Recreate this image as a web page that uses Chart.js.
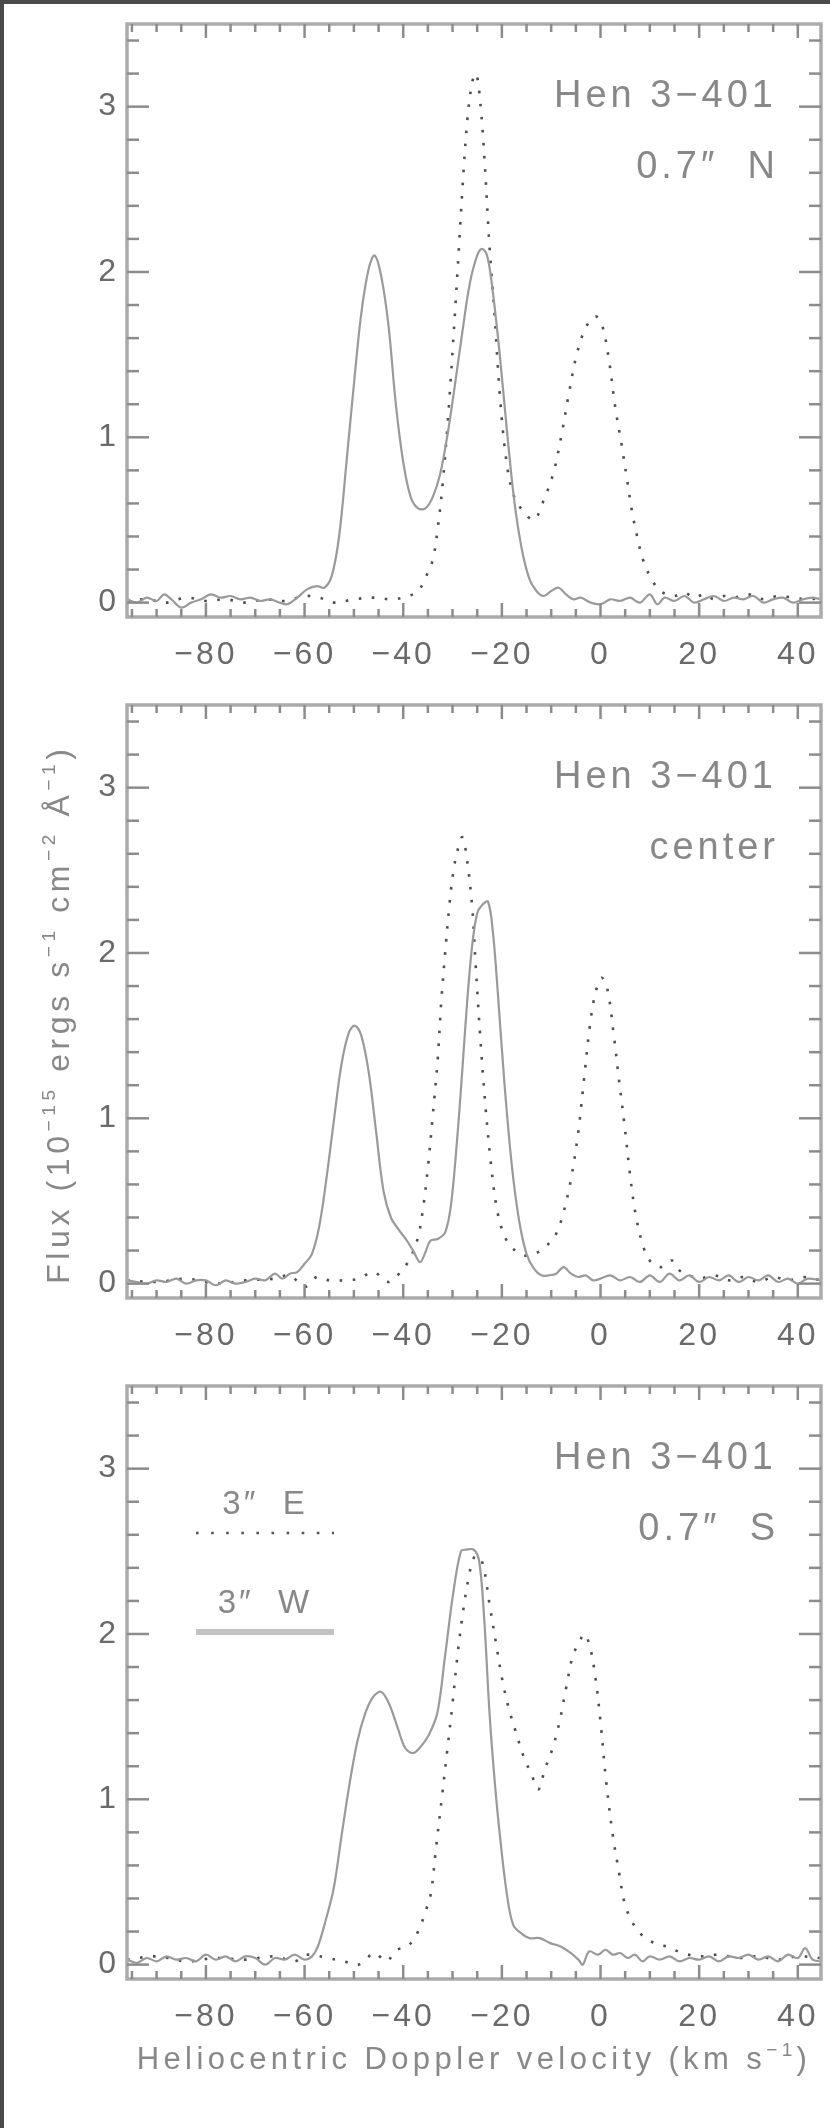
<!DOCTYPE html>
<html>
<head>
<meta charset="utf-8">
<script src="https://cdn.jsdelivr.net/npm/chart.js@4.4.0/dist/chart.umd.min.js"></script>
<style>
  html, body { margin: 0; padding: 0; background: #fff; }
  #page { position: relative; width: 830px; height: 2128px; overflow: hidden; background: #fff; }
  #page canvas { position: absolute; left: 0; }
  .edge { position: absolute; background: #4a4a4a; z-index: 5; }
</style>
</head>
<body>
<div id="page">
  <canvas id="panelN" width="830" height="681" style="top:0px"></canvas>
  <canvas id="panelC" width="830" height="681" style="top:681px"></canvas>
  <canvas id="panelS" width="830" height="766" style="top:1362px"></canvas>
  <div class="edge" style="left:0;top:0;width:830px;height:4px"></div>
  <div class="edge" style="left:0;top:0;width:4px;height:2128px"></div>
</div>
<script>
// axis ranges and ticks
const xMin = -96, xMax = 44.7;
const yMin = -0.087, yMax = 3.5;
const xMajorTicks = [-80, -60, -40, -20, 0, 20, 40];
const xMinorStep = 5;
const yMajorTicks = [0, 1, 2, 3];
const yMinorStep = 0.2;

// 0.7" N  -- solid = 3" W, dotted = 3" E
const northVelSolid = [-96,-94,-92,-90,-88.5,-87,-85,-83,-81,-79,-77,-75,-73,-71,-69,-67,-65,-63.5,-61.5,-59.5,-57.5,-56,-54.5,-53,-51.5,-50,-48.5,-47,-45.8,-44.5,-43,-41.5,-40,-38.5,-37,-35.5,-34,-32.5,-31,-29.5,-28,-26.5,-25,-24,-23,-22,-20.5,-19,-17.5,-16,-14.5,-13,-11.5,-10,-8.5,-7,-5.5,-4,-2,0,2,4,6,8,10,11.5,13,15,17,19,21,23,25,27,29,31,33,35,37,39,41,43,44.7];
const northFluxSolid = [0.02,0.00,0.03,0.01,0.05,0.02,-0.03,0.00,0.02,0.05,0.03,0.04,0.02,0.03,0.01,0.02,0.00,-0.01,0.03,0.08,0.10,0.09,0.16,0.40,0.85,1.32,1.75,2.02,2.10,1.98,1.68,1.20,0.85,0.64,0.57,0.57,0.64,0.78,1.02,1.32,1.64,1.93,2.10,2.14,2.10,1.92,1.52,1.05,0.62,0.33,0.15,0.07,0.04,0.07,0.09,0.05,0.02,0.03,0.00,-0.01,0.02,0.01,0.03,0.00,0.05,-0.01,0.03,0.01,0.04,0.00,0.02,0.04,0.01,0.03,0.02,0.04,0.00,0.02,0.03,0.00,0.02,0.03,0.02];
const northVelDotted = [-96,-92,-88,-84,-80,-76,-72,-68,-64,-60,-57,-54,-50,-46,-42,-39,-37,-35.5,-34,-33,-32,-31,-30,-29,-28,-27,-26,-25.2,-24.3,-23.4,-22.5,-21.5,-20.4,-19,-17.5,-15.6,-13.5,-11.5,-9.5,-8,-6.5,-5,-3.5,-2,-0.8,0.5,1.8,3,4.3,5.4,6.4,7.5,8.6,10.2,11.8,13.4,15,17,19,21,23,25,27,30,33,36,39,42,44.7];
const northFluxDotted = [0.01,0.02,0.00,0.03,0.01,0.02,0.00,0.02,0.01,0.04,0.03,0.00,0.02,0.03,0.02,0.04,0.07,0.15,0.26,0.45,0.72,1.08,1.52,2.00,2.50,2.92,3.15,3.20,3.00,2.62,2.15,1.75,1.25,0.84,0.64,0.55,0.50,0.62,0.79,1.00,1.25,1.48,1.63,1.71,1.73,1.66,1.45,1.18,0.95,0.74,0.55,0.39,0.26,0.15,0.08,0.05,0.04,0.06,0.03,0.05,0.02,0.04,0.03,0.05,0.02,0.04,0.03,0.02,0.03];

// center
const centerVelSolid = [-96,-94,-92,-90,-88,-86,-84,-82,-80,-78,-76,-74,-72,-70,-68,-66,-64.5,-63,-61.5,-60,-58.5,-57,-55.5,-54,-52.5,-51,-49.8,-48.5,-47,-45.5,-44,-42.5,-41,-39.5,-38,-36.6,-35.5,-34.5,-33,-31.5,-30.3,-29,-28,-27,-26,-25,-24,-22.8,-21.8,-20.8,-19.5,-18,-16.5,-15,-13.5,-12,-10.5,-9,-7.5,-6,-4.5,-3,-1.5,0,2,4,6,8,10,12,14,16,18,20,22,24,26,28,30,32,34,36,38,40,42,44.7];
const centerFluxSolid = [0.02,0.01,0.00,0.02,0.01,0.03,0.00,0.02,0.02,-0.01,0.02,0.00,0.01,0.03,0.02,0.06,0.03,0.06,0.07,0.12,0.18,0.35,0.65,1.00,1.33,1.52,1.56,1.50,1.28,0.92,0.56,0.40,0.33,0.27,0.20,0.13,0.19,0.26,0.27,0.31,0.48,0.90,1.30,1.72,2.05,2.24,2.29,2.31,2.12,1.75,1.22,0.72,0.38,0.18,0.09,0.05,0.05,0.06,0.10,0.06,0.04,0.05,0.02,0.03,0.05,0.02,0.04,0.01,0.05,0.01,0.06,0.02,0.05,0.01,0.04,0.02,0.05,0.01,0.04,0.02,0.05,0.01,0.03,0.00,0.03,0.02];
const centerVelDotted = [-96,-90,-84,-78,-72,-66,-63,-60,-57.5,-55,-52,-49,-46,-43,-40,-38.5,-37,-36,-35,-34,-33,-32.3,-31.5,-30.6,-29.8,-28.9,-28,-27,-26,-25.3,-24.4,-23.4,-22.3,-21,-19.5,-17.7,-15.5,-13.4,-11.3,-9.2,-7.6,-6,-4.5,-3.3,-2.2,-1.1,0.2,1.4,2.7,3.8,4.9,5.9,7,8.6,10.2,12.3,14.5,16,18,20,23,26,29,32,35,38,41,44.7];
const centerFluxDotted = [0.02,0.01,0.03,0.00,0.02,0.03,0.05,-0.02,0.04,0.02,0.02,0.03,0.07,0.01,0.09,0.16,0.28,0.45,0.70,1.02,1.36,1.70,2.00,2.30,2.50,2.63,2.70,2.55,2.27,1.92,1.50,1.10,0.75,0.45,0.29,0.21,0.17,0.18,0.22,0.29,0.42,0.63,0.92,1.25,1.55,1.75,1.85,1.78,1.50,1.22,0.95,0.68,0.44,0.23,0.13,0.10,0.14,0.08,0.05,0.03,0.05,0.02,0.04,0.01,0.04,0.02,0.04,0.02];

// 0.7" S
const southVelSolid = [-96,-94,-92,-90,-88,-86,-84,-82,-80,-78,-76,-74,-72,-70,-68,-66,-64,-62,-60,-58.5,-57.3,-55.7,-54.1,-52.5,-50.9,-49.3,-47.7,-46.1,-44.5,-42.9,-41.2,-39.6,-38,-36.4,-34.8,-33.1,-31.5,-29.9,-28.3,-27.3,-25.7,-24.6,-23.6,-22.5,-21.4,-20.4,-19,-17.7,-16.1,-14.4,-12.3,-10.2,-8.1,-6,-4.5,-3.6,-2.3,-0.5,1,2.5,4,5.5,7,8.5,10,12,14,16,18,20,22,24,26,28,30,32,34,36,38,40,41.5,43,44.7];
const southFluxSolid = [0.03,0.01,0.04,0.02,0.05,0.03,0.04,0.02,0.06,0.03,0.05,0.02,0.05,0.04,0.00,0.04,0.03,0.06,0.03,0.05,0.11,0.27,0.46,0.78,1.09,1.35,1.52,1.62,1.65,1.58,1.44,1.31,1.28,1.32,1.39,1.52,1.87,2.24,2.50,2.51,2.51,2.44,2.10,1.52,1.09,0.78,0.43,0.24,0.19,0.16,0.16,0.13,0.11,0.07,0.03,0.00,0.08,0.06,0.09,0.06,0.07,0.04,0.06,0.02,0.05,0.03,0.05,0.02,0.04,0.03,0.05,0.02,0.05,0.04,0.06,0.03,0.05,0.02,0.06,0.04,0.10,0.03,0.02];
const southVelDotted = [-96,-90,-84,-78,-72,-66,-62,-59.6,-55.3,-52.1,-49,-45.8,-43.5,-41.2,-39.1,-37,-35.5,-34.4,-33.3,-32.2,-31.1,-30,-29,-27.9,-26.8,-25.7,-24.6,-23.6,-22.5,-21.1,-19.9,-18.6,-17.2,-15.6,-14,-12.6,-11.3,-9.7,-8.3,-7,-5.6,-4.3,-3.3,-2.2,-1.1,0,1.1,2.5,3.8,4.9,6.4,8,10.2,13.4,16.6,20,24,28,32,36,40,44.7];
const southFluxDotted = [0.03,0.05,0.02,0.04,0.03,0.05,0.02,0.06,0.04,0.02,0.00,0.07,0.02,0.09,0.11,0.20,0.32,0.43,0.72,1.00,1.29,1.58,1.87,2.13,2.33,2.46,2.47,2.39,2.18,1.93,1.72,1.55,1.41,1.26,1.15,1.06,1.18,1.31,1.47,1.67,1.87,1.95,2.00,1.93,1.75,1.47,1.12,0.78,0.55,0.37,0.26,0.19,0.14,0.11,0.07,0.05,0.06,0.04,0.05,0.03,0.05,0.04];

const objectName = 'Hen 3\u2212401';
const panelLabels = ['0.7\u2033  N', 'center', '0.7\u2033  S'];
const legendLabels = ['3\u2033  E', '3\u2033  W'];

const FONT = '"Liberation Sans", Arial, sans-serif';
const TEXT = '#6a6a6a';

function toXY(vs, fs) {
  return vs.map((v, i) => ({ x: v, y: fs[i] }));
}

function fmtTick(v) {
  return v < 0 ? '\u2212' + Math.abs(v) : String(v);
}

// draw a line of text made of normal and superscript pieces, centred on (x, y)
function drawRich(ctx, segs, x, y, size, spacing, rotate) {
  ctx.save();
  ctx.translate(x, y);
  if (rotate) ctx.rotate(-Math.PI / 2);
  ctx.textAlign = 'left';
  ctx.textBaseline = 'alphabetic';
  ctx.letterSpacing = spacing + 'px';
  const fonts = segs.map(s => (s.sup ? Math.round(size * 0.6) : size) + 'px ' + FONT);
  let total = 0;
  const widths = segs.map((s, i) => {
    ctx.font = fonts[i];
    const w = ctx.measureText(s.t).width;
    total += w;
    return w;
  });
  let cx = -total / 2;
  segs.forEach((s, i) => {
    ctx.font = fonts[i];
    ctx.fillText(s.t, cx, s.sup ? size * 0.36 - size * 0.42 : size * 0.36);
    cx += widths[i];
  });
  ctx.restore();
}

function seg(ctx, x1, y1, x2, y2) {
  ctx.beginPath();
  ctx.moveTo(x1, y1);
  ctx.lineTo(x2, y2);
  ctx.stroke();
}

// IDL-like box: frame, inward ticks on all four sides, labels, annotations
const idlFrame = {
  id: 'idlFrame',
  afterDraw(chart, args, opts) {
    const ctx = chart.ctx;
    const { left, right, top, bottom } = chart.chartArea;
    const xs = chart.scales.x, ys = chart.scales.y;
    ctx.save();

    ctx.strokeStyle = '#ababab';
    ctx.lineWidth = 3.5;
    ctx.strokeRect(left, top, right - left, bottom - top);

    ctx.strokeStyle = '#8c8c8c';
    ctx.lineWidth = 2.5;
    for (let k = Math.ceil(xMin / xMinorStep); k * xMinorStep <= xMax; k++) {
      const v = k * xMinorStep;
      const px = xs.getPixelForValue(v);
      const len = xMajorTicks.includes(v) ? 14 : 8;
      seg(ctx, px, bottom, px, bottom - len);
      seg(ctx, px, top, px, top + len);
    }
    for (let k = 0; k * yMinorStep <= yMax; k++) {
      const v = +(k * yMinorStep).toFixed(2);
      const py = ys.getPixelForValue(v);
      const len = yMajorTicks.includes(v) ? 22 : 12;
      seg(ctx, left, py, left + len, py);
      seg(ctx, right, py, right - len, py);
    }

    ctx.fillStyle = TEXT;
    ctx.font = '32px ' + FONT;
    ctx.letterSpacing = '3px';
    ctx.textBaseline = 'middle';
    ctx.textAlign = 'center';
    xMajorTicks.forEach(v => ctx.fillText(fmtTick(v), xs.getPixelForValue(v), bottom + 38));
    ctx.textAlign = 'right';
    yMajorTicks.forEach(v => ctx.fillText(fmtTick(v), left - 8, ys.getPixelForValue(v)));

    ctx.fillStyle = '#888';
    ctx.font = '38px ' + FONT;
    ctx.letterSpacing = '4px';
    ctx.textAlign = 'right';
    ctx.fillText(objectName, right - 44, top + 73);
    ctx.fillText(opts.label, right - 42, top + 144);

    if (opts.legend) {
      ctx.fillStyle = '#888';
      ctx.font = '33px ' + FONT;
      ctx.letterSpacing = '3px';
      ctx.textAlign = 'center';
      ctx.fillText(legendLabels[0], 265, top + 119);
      ctx.fillText(legendLabels[1], 265, top + 218);
      ctx.strokeStyle = '#555';
      ctx.lineWidth = 2.6;
      ctx.setLineDash([2.6, 12.5]);
      seg(ctx, 196, top + 147, 334, top + 147);
      ctx.setLineDash([]);
      ctx.strokeStyle = '#c2c2c2';
      ctx.lineWidth = 6;
      seg(ctx, 196, top + 246, 334, top + 246);
    }

    ctx.fillStyle = '#888';
    if (opts.xTitle) {
      drawRich(ctx, [
        { t: 'Heliocentric Doppler velocity (km s' },
        { t: '\u22121', sup: true },
        { t: ')' }
      ], (left + right) / 2, bottom + 79, 31, 4.4, false);
    }
    if (opts.yTitle) {
      drawRich(ctx, [
        { t: 'Flux (10' }, { t: '\u221215', sup: true },
        { t: ' ergs s' }, { t: '\u22121', sup: true },
        { t: ' cm' }, { t: '\u22122', sup: true },
        { t: ' \u00c5' }, { t: '\u22121', sup: true },
        { t: ')' }
      ], 57, ys.getPixelForValue(1.63), 32, 4.6, true);
    }
    ctx.restore();
  }
};

function makePanel(id, height, velS, fluxS, velD, fluxD, frameOpts) {
  const ctx = document.getElementById(id).getContext('2d');
  return new Chart(ctx, {
    type: 'line',
    data: {
      datasets: [
        {
          label: '3" W',
          data: toXY(velS, fluxS),
          borderColor: '#9a9a9a',
          borderWidth: 2.2,
          pointRadius: 0,
          tension: 0.35
        },
        {
          label: '3" E',
          data: toXY(velD, fluxD),
          borderColor: '#4e4e4e',
          borderWidth: 2.6,
          borderDash: [2.6, 10.5],
          pointRadius: 0,
          tension: 0.35
        }
      ]
    },
    options: {
      responsive: false,
      animation: false,
      devicePixelRatio: 1,
      layout: { padding: { top: 24, left: 0, right: 9, bottom: 0 } },
      scales: {
        x: {
          type: 'linear', min: xMin, max: xMax,
          grid: { display: false }, border: { display: false },
          ticks: { display: false },
          afterFit(scale) { scale.height = height - 617; }
        },
        y: {
          type: 'linear', min: yMin, max: yMax,
          grid: { display: false }, border: { display: false },
          ticks: { display: false },
          afterFit(scale) { scale.width = 127; }
        }
      },
      plugins: {
        legend: { display: false },
        tooltip: { enabled: false },
        idlFrame: frameOpts
      }
    },
    plugins: [idlFrame]
  });
}

makePanel('panelN', 681, northVelSolid, northFluxSolid, northVelDotted, northFluxDotted,
  { label: panelLabels[0] });
makePanel('panelC', 681, centerVelSolid, centerFluxSolid, centerVelDotted, centerFluxDotted,
  { label: panelLabels[1], yTitle: true });
makePanel('panelS', 766, southVelSolid, southFluxSolid, southVelDotted, southFluxDotted,
  { label: panelLabels[2], legend: true, xTitle: true });
</script>
</body>
</html>
